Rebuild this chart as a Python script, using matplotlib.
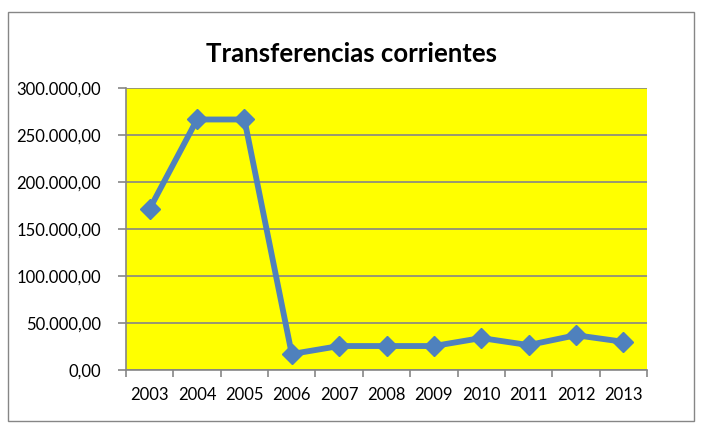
import matplotlib
matplotlib.use("Agg")
import matplotlib.pyplot as plt
from matplotlib.patches import Rectangle

# datos
anios = ["2003", "2004", "2005", "2006", "2007", "2008", "2009", "2010", "2011", "2012", "2013"]
valores = [171500, 266500, 266500, 17000, 25500, 25500, 25500, 34000, 26500, 37000, 30000]
ticks_y = [0, 50000, 100000, 150000, 200000, 250000, 300000]

plt.rcParams['font.family'] = ['Lato', 'DejaVu Sans']

fig = plt.figure(figsize=(7.02, 4.29), dpi=100)
fig.patch.set_facecolor("white")

# borde exterior del grafico
fig.patches.append(Rectangle((8 / 702, 1 - 421 / 429), 686 / 702, 409 / 429,
                             transform=fig.transFigure, fill=False,
                             edgecolor="#868686", linewidth=1.0))

ax = fig.add_axes([126 / 702, 1 - 370 / 429, 521 / 702, 282 / 429])
ax.set_facecolor("#FFFF00")

x = list(range(len(anios)))
ax.plot(x, valores, color="#4F81BD", linewidth=4.2, marker="D", markersize=10.5,
        markerfacecolor="#4F81BD", markeredgecolor="#4F81BD", zorder=3)

ax.set_xlim(-0.5, len(anios) - 0.5)
ax.set_ylim(0, 300000)
ax.set_yticks(ticks_y)


def fmt(v):
    s = f"{v:,.2f}"
    return s.replace(",", "X").replace(".", ",").replace("X", ".")


ax.set_yticklabels([fmt(v) for v in ticks_y], fontsize=12)
ax.yaxis.grid(True, color="#868686", linewidth=1.2)
ax.set_axisbelow(True)

ax.set_xticks(x)
ax.set_xticklabels(anios, fontsize=12)
ax.set_xticks([i - 0.5 for i in range(len(anios) + 1)], minor=True)
ax.tick_params(axis="x", which="major", length=0, pad=12)
ax.tick_params(axis="x", which="minor", length=5, color="#868686", width=1.2)
ax.tick_params(axis="y", length=6, color="#868686", width=1.2, pad=12)

for side in ["top", "right"]:
    ax.spines[side].set_visible(False)
for side in ["left", "bottom"]:
    ax.spines[side].set_color("#868686")
    ax.spines[side].set_linewidth(1.2)

fig.text(352 / 702, 1 - 54 / 429, "Transferencias corrientes", ha="center", va="center",
         fontsize=18.5, fontweight="bold")

fig.savefig("out.png", dpi=100)
